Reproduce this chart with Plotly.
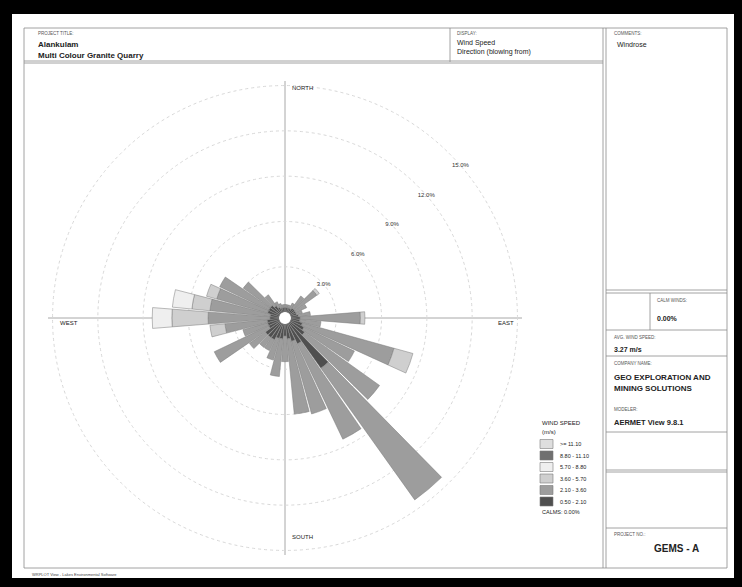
import plotly.graph_objects as go

W, H = 742, 587

# ---------------- data ----------------
directions = [10, 20, 30, 40, 50, 60, 70, 80, 90, 100, 110, 120, 130, 140, 150, 160, 170, 180,
              190, 200, 210, 220, 230, 240, 250, 260, 270, 280, 290, 300, 310, 320, 330, 340, 350, 360]

speed_bins = ["0.50 - 2.10", "2.10 - 3.60", "3.60 - 5.70", "5.70 - 8.80", "8.80 - 11.10", ">= 11.10"]

freq_050_210 = [0.3, 0.3, 0.3, 0.4, 0.4, 0.4, 0.4, 0.5, 0.6, 0.6, 0.8, 1.0, 1.2, 3.7, 1.5, 1.2, 1.0, 0.8,
                1.0, 1.0, 1.2, 1.2, 1.2, 0.8, 0.8, 0.8, 0.6, 0.6, 0.8, 0.8, 0.8, 0.6, 0.4, 0.3, 0.3, 0.3]
freq_210_360 = [0.2, 0.2, 0.4, 1.0, 1.8, 0.8, 0.4, 0.8, 4.0, 1.4, 6.3, 3.7, 6.1, 10.7, 7.0, 5.0, 5.0, 1.7,
                2.5, 1.5, 0.8, 0.8, 1.3, 4.0, 1.7, 2.8, 4.1, 4.0, 3.5, 3.6, 2.2, 0.9, 0.4, 0.3, 0.2, 0.2]
freq_360_570 = [0, 0, 0, 0, 0.2, 0, 0, 0, 0.3, 0, 1.3, 0, 0, 0, 0, 0, 0, 0,
                0, 0, 0, 0, 0, 0, 0, 1.0, 2.4, 1.2, 0.7, 0, 0, 0, 0, 0, 0, 0]
freq_570_880 = [0, 0, 0, 0, 0, 0, 0, 0, 0, 0, 0, 0, 0, 0, 0, 0, 0, 0,
                0, 0, 0, 0, 0, 0, 0, 0, 1.3, 1.3, 0, 0, 0, 0, 0, 0, 0, 0]
freq_880_1110 = [0, 0, 0, 0, 0, 0, 0, 0, 0, 0, 0, 0, 0, 0, 0, 0, 0, 0,
                 0, 0, 0, 0, 0, 0, 0, 0, 0, 0, 0, 0, 0, 0, 0, 0, 0, 0]
freq_ge_1110 = [0, 0, 0, 0, 0, 0, 0, 0, 0, 0, 0, 0, 0, 0, 0, 0, 0, 0,
                0, 0, 0, 0, 0, 0, 0, 0, 0, 0, 0, 0, 0, 0, 0, 0, 0, 0]

ring_values = [3, 6, 9, 12, 15]
ring_labels = ["3.0%", "6.0%", "9.0%", "12.0%", "15.0%"]
compass_labels = ["NORTH", "EAST", "SOUTH", "WEST"]

# ---------------- style ----------------
bin_colors = ["#4f4f4f", "#9d9d9d", "#cfcfcf", "#efefef", "#707070", "#dedede"]
series = [freq_050_210, freq_210_360, freq_360_570, freq_570_880, freq_880_1110, freq_ge_1110]

def px(x):
    return x / W

def py(y):
    return 1 - y / H

fig = go.Figure()
for name, vals, col in zip(speed_bins, series, bin_colors):
    fig.add_trace(go.Barpolar(
        r=vals, theta=directions, name=name, width=9,
        marker=dict(color=col, line=dict(color="#7a7a7a", width=0.5)),
        showlegend=False, hoverinfo="skip"))

fig.add_trace(go.Scatterpolar(
    r=ring_values, theta=[49] * len(ring_values), mode="text", text=ring_labels,
    textfont=dict(family="Liberation Sans, Arial", size=6, color="#333"),
    showlegend=False, hoverinfo="skip"))

cx, cy, R = 285, 318, 237
fig.update_layout(
    width=W, height=H,
    margin=dict(l=0, r=0, t=0, b=0),
    paper_bgcolor="black",
    polar=dict(
        domain=dict(x=[px(cx - R), px(cx + R)], y=[py(cy + R), py(cy - R)]),
        bgcolor="rgba(0,0,0,0)",
        hole=0.025,
        barmode="stack",
        radialaxis=dict(range=[0, 15.3], tickvals=ring_values, showticklabels=False, ticks="",
                        showline=False, gridcolor="#d8d8d8", gridwidth=1, griddash="dot"),
        angularaxis=dict(rotation=90, direction="clockwise", tickvals=[0, 90, 180, 270],
                         showticklabels=False, ticks="", showline=False,
                         gridcolor="#a8a8a8", gridwidth=1),
    ),
    showlegend=False,
)

shapes = []
# white sheet
shapes.append(dict(type="rect", xref="paper", yref="paper", x0=px(12), x1=px(734), y0=py(578), y1=py(14),
                   fillcolor="white", line=dict(width=0), layer="below"))
line_col = "#8a8a8a"

def hline(x0, x1, y, w=0.8, c=line_col):
    shapes.append(dict(type="line", xref="paper", yref="paper", x0=px(x0), x1=px(x1), y0=py(y), y1=py(y),
                       line=dict(color=c, width=w)))

def vline(x, y0, y1, w=0.8, c=line_col):
    shapes.append(dict(type="line", xref="paper", yref="paper", x0=px(x), x1=px(x), y0=py(y0), y1=py(y1),
                       line=dict(color=c, width=w)))

# frame
hline(24, 727, 28)
hline(24, 727, 568)
vline(24, 28, 568)
vline(727, 28, 568)
# title strip
hline(24, 603, 61)
hline(24, 603, 63)
vline(450, 28, 62)
# right column
vline(603, 28, 568)
vline(606, 28, 568)
hline(606, 727, 290)
hline(606, 727, 293)
vline(650, 293, 330)
hline(606, 727, 330)
hline(606, 727, 356)
hline(606, 727, 432)
hline(606, 727, 470)
hline(606, 727, 472)
hline(606, 727, 528)

anns = []

def txt(x, y, s, size=7, bold=False, color="#222", anchor="left"):
    anns.append(dict(x=px(x), y=py(y), xref="paper", yref="paper", text=("<b>%s</b>" % s) if bold else s,
                     showarrow=False, xanchor=anchor, yanchor="middle",
                     font=dict(family="Liberation Sans, Arial", size=size, color=color)))

small = 4.5
txt(36, 33, "PROJECT TITLE:", small, color="#555")
txt(36, 45, "Alankulam", 8, True)
txt(36, 56, "Multi Colour Granite Quarry", 8, True)
txt(455, 33, "DISPLAY:", small, color="#555")
txt(455, 43, "Wind Speed", 7)
txt(455, 52, "Direction (blowing from)", 7)
txt(612, 33, "COMMENTS:", small, color="#555")
txt(615, 45, "Windrose", 7)
txt(655, 300, "CALM WINDS:", small, color="#555")
txt(655, 318, "0.00%", 7, True)
txt(612, 337, "AVG. WIND SPEED:", small, color="#555")
txt(612, 349, "3.27 m/s", 7, True)
txt(612, 363, "COMPANY NAME:", small, color="#555")
txt(612, 377, "GEO EXPLORATION AND", 8, True)
txt(612, 388, "MINING SOLUTIONS", 8, True)
txt(612, 409, "MODELER:", small, color="#555")
txt(612, 422, "AERMET View 9.8.1", 7.5, True)
txt(612, 534, "PROJECT NO.:", small, color="#555")
txt(652, 548, "GEMS - A", 10, True)
txt(30, 574, "WRPLOT View - Lakes Environmental Software", 4, color="#444")

# compass labels
txt(290, 88, compass_labels[0], 6)
txt(496, 323, compass_labels[1], 6)
txt(290, 537, compass_labels[2], 6)
txt(58, 323, compass_labels[3], 6)

# legend (drawn manually)
txt(540, 423, "WIND SPEED", 6)
txt(540, 432, "(m/s)", 6)
leg_y = [444, 455.5, 467, 478.5, 490, 501.5]
for yy, name, col in zip(leg_y, speed_bins[::-1], bin_colors[::-1]):
    shapes.append(dict(type="rect", xref="paper", yref="paper", x0=px(540), x1=px(553),
                       y0=py(yy + 4.5), y1=py(yy - 4.5), fillcolor=col,
                       line=dict(color="#7a7a7a", width=0.6)))
    txt(558, yy, name, 5.5)
txt(540, 512, "CALMS: 0.00%", 5.5)

fig.update_layout(shapes=shapes, annotations=anns)
fig.write_html("out.html")
